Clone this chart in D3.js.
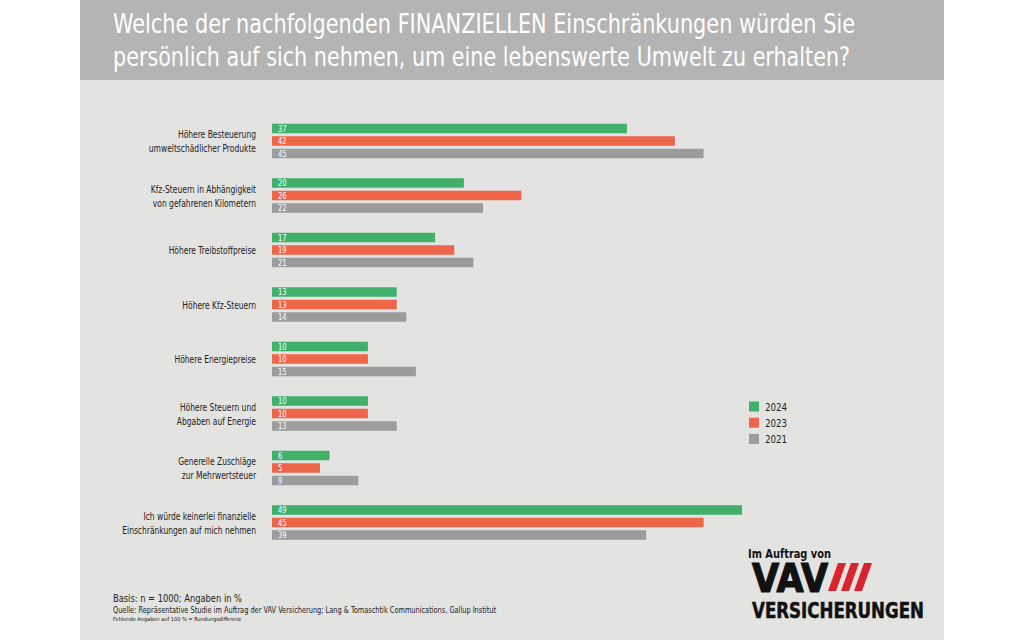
<!DOCTYPE html>
<html><head><meta charset="utf-8">
<script src="https://cdn.jsdelivr.net/npm/d3@7"></script>
<style>
html,body{margin:0;padding:0;background:#fff;}
svg{display:block;}
text{font-family:"Liberation Sans Narrow","DejaVu Sans Condensed","Roboto Condensed",sans-serif;}
</style></head>
<body>
<svg id="c" width="1024" height="640"></svg>
<script>
const categories = [
  ["Höhere Besteuerung","umweltschädlicher Produkte"],
  ["Kfz-Steuern in Abhängigkeit","von gefahrenen Kilometern"],
  ["Höhere Treibstoffpreise"],
  ["Höhere Kfz-Steuern"],
  ["Höhere Energiepreise"],
  ["Höhere Steuern und","Abgaben auf Energie"],
  ["Generelle Zuschläge","zur Mehrwertsteuer"],
  ["Ich würde keinerlei finanzielle","Einschränkungen auf mich nehmen"]
];
const seriesNames = ["2024","2023","2021"];
const values2024 = [37,20,17,13,10,10,6,49];
const values2023 = [42,26,19,13,10,10,5,45];
const values2021 = [45,22,21,14,15,13,9,39];
const colors = ["#40b06a","#ee6649","#9c9c9c"];
const titleLines = ["Welche der nachfolgenden FINANZIELLEN Einschränkungen würden Sie","persönlich auf sich nehmen, um eine lebenswerte Umwelt zu erhalten?"];
const footerLines = ["Basis: n = 1000; Angaben in %","Quelle: Repräsentative Studie im Auftrag der VAV Versicherung; Lang & Tomaschtik Communications, Gallup Institut","Fehlende Angaben auf 100 % = Rundungsdifferenz"];

function condense(sel, f){
  sel.each(function(){
    const w = this.getComputedTextLength();
    d3.select(this).attr("textLength", w*f).attr("lengthAdjust","spacingAndGlyphs");
  });
}

const svg = d3.select("#c");
svg.append("rect").attr("x",80).attr("y",0).attr("width",864).attr("height",640).attr("fill","#e3e3e1");
svg.append("rect").attr("x",80).attr("y",0).attr("width",864).attr("height",80).attr("fill","#b4b4b4");
const titleW = [742, 737];
svg.selectAll("text.title").data(titleLines).join("text").attr("class","title")
  .attr("x",113).attr("y",(d,i)=>33+i*32.5).attr("fill","#fff").attr("font-size",27)
  .attr("textLength",(d,i)=>titleW[i]).attr("lengthAdjust","spacingAndGlyphs").text(d=>d);

const seriesVals = [values2024, values2023, values2021];
const keys = categories.map((c,i)=>i);
const x = d3.scaleLinear().domain([0,49]).range([272,742]);
const y = d3.scalePoint().domain(keys).range([141,522.5]);
const yi = d3.scaleBand().domain(seriesNames).range([-17.25,17.25]).paddingInner(0.24);

const g = svg.append("g");
const groups = g.selectAll("g.grp").data(keys).join("g").attr("class","grp")
  .attr("transform",d=>`translate(0,${y(d)})`);
groups.each(function(ci){
  const gg = d3.select(this);
  seriesNames.forEach((s,si)=>{
    const v = seriesVals[si][ci];
    gg.append("rect").attr("x",x(0)).attr("y",yi(s)).attr("width",x(v)-x(0)).attr("height",yi.bandwidth()).attr("fill",colors[si]);
    gg.append("text").attr("class","val").attr("x",x(0)+6).attr("y",yi(s)+yi.bandwidth()/2+3).attr("fill","#fff").attr("font-size",8.5).text(v);
  });
  const lines = categories[ci];
  gg.selectAll("text.lbl").data(lines).join("text").attr("class","lbl")
    .attr("x",256).attr("text-anchor","end").attr("fill","#222").attr("font-size",10.5)
    .attr("y",(d,i)=> lines.length===1 ? 4 : -3 + i*14).text(d=>d);
});
condense(svg.selectAll("text.lbl"), 0.8);
condense(svg.selectAll("text.val"), 0.88);

// legend
const leg = svg.append("g");
seriesNames.forEach((s,i)=>{
  leg.append("rect").attr("x",749).attr("y",401.5+i*16.2).attr("width",10).attr("height",10).attr("fill",colors[i]);
  leg.append("text").attr("class","leg").attr("x",765).attr("y",410.5+i*16.2).attr("font-size",11).attr("fill","#222").text(s);
});
condense(svg.selectAll("text.leg"), 0.88);

// footer
const f1 = svg.append("text").attr("x",113).attr("y",602).attr("font-size",11).attr("fill","#222").text(footerLines[0]);
const f2 = svg.append("text").attr("x",113).attr("y",612.5).attr("font-size",8).attr("fill","#222").text(footerLines[1]);
const f3 = svg.append("text").attr("x",113).attr("y",620.5).attr("font-size",5.5).attr("fill","#222").text(footerLines[2]);
f1.attr("textLength",129).attr("lengthAdjust","spacingAndGlyphs");
f2.attr("textLength",383).attr("lengthAdjust","spacingAndGlyphs");
f3.attr("textLength",128).attr("lengthAdjust","spacingAndGlyphs");

// logo
svg.append("text").attr("x",748).attr("y",558).attr("font-size",13).attr("font-weight","bold").attr("fill","#111")
  .attr("textLength",83).attr("lengthAdjust","spacingAndGlyphs").text("Im Auftrag von");
svg.append("text").attr("x",752).attr("y",591.5).attr("font-size",39).attr("font-weight","bold").attr("fill","#111")
  .attr("stroke","#111").attr("stroke-width",1.2)
  .attr("textLength",76).attr("lengthAdjust","spacingAndGlyphs").text("VAV");
for(let k=0;k<3;k++){
  const x0 = 838 + k*13;
  svg.append("path").attr("d",`M${x0},563 L${x0+8},563 L${x0-2},591 L${x0-10},591 Z`).attr("fill","#d9232e");
}
svg.append("text").attr("x",752).attr("y",618).attr("font-size",21).attr("font-weight","bold").attr("fill","#111")
  .attr("stroke","#111").attr("stroke-width",0.5)
  .attr("textLength",172).attr("lengthAdjust","spacingAndGlyphs").text("VERSICHERUNGEN");
</script>
</body></html>
